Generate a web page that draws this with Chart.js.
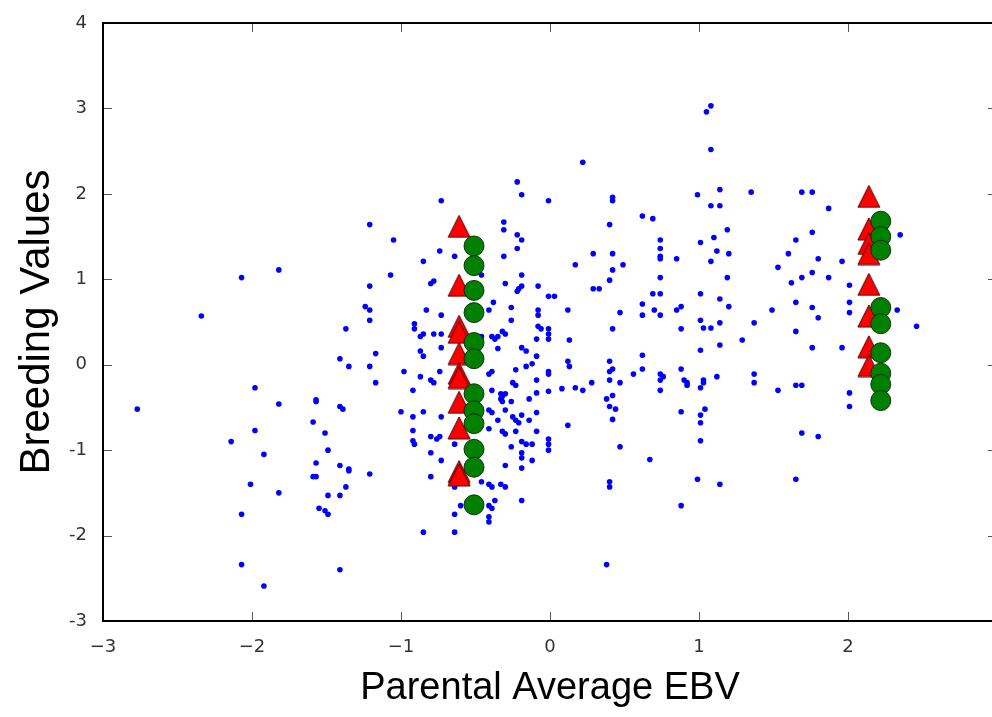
<!DOCTYPE html>
<html>
<head>
<meta charset="utf-8">
<script src="https://cdn.jsdelivr.net/npm/chart.js@4.4.1/dist/chart.umd.min.js"></script>
<style>
  html, body { margin: 0; padding: 0; background: #fff; overflow: hidden; }
  #wrap { position: absolute; left: 0; top: 0; width: 1020px; height: 717px; }
</style>
</head>
<body>
<div id="wrap"><canvas id="myChart" width="1020" height="717"></canvas></div>
<script>
// axis ticks
const xTicks = [-3, -2, -1, 0, 1, 2, 3];
const yTicks = [-3, -2, -1, 0, 1, 2, 3, 4];

// whole population (blue dots): parental average EBV and breeding value
const popEBV = [
  -1.82,-2.07,-2.34,-1.37,-1.41,-1.35,-1.98,-1.82,-1.57,-1.57,
  -1.41,-1.39,-2.77,-1.59,-1.98,-2.14,-1.51,-1.49,-1.92,-1.57,
  -1.41,-1.35,-1.35,-1.59,-1.57,-2.01,-1.82,-1.49,-1.41,-1.37,
  -1.55,-1.51,-1.49,-2.07,-2.07,-1.92,-1.41,
  -0.22,-0.19,-0.01,-0.73,-1.21,-0.31,-0.31,-0.22,-0.19,-1.05,
  -0.74,-0.22,-0.85,-0.64,-0.31,-1.07,-0.46,-0.19,-0.78,-0.80,
  -1.21,-0.30,-0.19,-0.21,-0.22,-0.08,-0.01,0.03,-0.38,-1.24,
  -1.21,-0.83,-0.26,-0.08,-0.08,-0.73,-0.41,-1.21,-0.26,-0.91,
  -0.91,-0.08,-0.06,-0.01,-0.01,-0.01,-0.85,-0.87,-0.78,-0.73,
  -0.32,-0.30,-0.39,-0.35,-0.37,-0.46,-0.09,-0.73,-0.19,
  -1.17,-0.87,-0.85,-0.35,-0.16,-0.09,-1.21,-0.98,-0.87,-0.74,
  -0.80,-0.78,-1.17,-0.92,-0.41,-0.39,-0.25,-0.23,-0.23,-0.16,
  -0.12,-0.09,-0.01,-0.01,-0.39,-0.33,-0.32,-0.30,-0.33,-0.32,
  -0.14,-0.09,-0.01,0.08,-1.00,-0.85,-0.73,-0.92,-0.41,-0.39,
  -0.26,-0.30,-0.25,-0.23,-0.21,-0.19,-0.14,-0.09,-0.41,-0.35,
  -0.32,-0.30,-0.23,-0.09,-0.92,-0.92,-0.91,-0.80,-0.76,-0.74,
  -0.64,-0.26,-0.19,-0.16,-0.12,-0.01,-0.01,-0.01,-0.80,-0.73,
  -0.19,-0.19,-0.12,-0.30,-0.19,-1.21,-0.80,-0.46,-0.41,-0.39,
  -0.33,-0.30,-0.37,-0.41,-0.39,-0.41,-0.41,-0.19,-0.60,-0.64,
  -0.64,-0.85,-0.64,
  1.08,1.05,1.08,0.22,0.99,1.14,1.35,1.08,1.14,0.42,
  0.42,0.62,0.69,0.40,1.19,1.10,1.01,1.12,1.20,1.08,
  0.74,0.74,0.74,0.74,0.85,0.29,0.42,0.49,0.42,0.17,
  0.40,0.29,0.33,0.12,0.74,0.69,0.74,0.62,0.62,0.70,
  0.74,0.47,0.85,0.88,1.01,1.19,1.14,1.20,1.49,1.53,
  1.01,1.03,1.08,1.14,1.37,0.42,0.88,
  1.29,0.13,1.14,1.01,0.62,0.12,0.13,0.40,0.42,0.40,
  0.40,0.62,0.56,0.47,0.28,0.17,0.22,0.74,0.76,0.74,
  0.74,0.88,0.90,0.92,0.92,1.03,1.03,1.01,1.12,1.37,
  1.37,1.53,0.42,0.38,0.40,0.44,0.42,0.88,1.01,1.04,
  1.01,0.12,0.47,1.01,0.67,0.40,0.40,0.99,1.14,0.88,
  0.38,
  1.69,1.76,1.87,1.76,1.65,1.60,1.80,1.96,1.76,1.69,
  1.62,1.87,2.01,1.65,1.76,1.80,2.01,2.01,2.35,2.33,
  2.46,1.65,1.76,1.96,1.65,1.69,2.01,2.01,1.69,1.80,
  1.65
];
const popBV = [
  1.11,1.02,0.57,0.42,0.07,-0.02,-0.27,-0.46,-0.41,-0.43,
  -0.49,-0.52,-0.52,-0.67,-0.77,-0.90,-0.80,-1.00,-1.05,-1.15,
  -1.18,-1.22,-1.24,-1.31,-1.31,-1.40,-1.50,-1.53,-1.53,-1.43,
  -1.68,-1.71,-1.75,-1.75,-2.34,-2.59,-2.40,
  2.14,1.99,1.92,1.92,1.64,1.67,1.58,1.52,1.46,1.46,
  1.33,1.36,1.21,1.27,1.27,1.05,1.05,1.05,0.98,0.95,
  0.92,0.95,0.92,0.89,0.86,0.92,0.80,0.80,0.73,0.68,
  0.64,0.64,0.67,0.64,0.58,0.58,0.64,0.52,0.52,0.48,
  0.42,0.45,0.42,0.42,0.36,0.30,0.36,0.33,0.36,0.36,
  0.39,0.36,0.33,0.33,0.30,0.33,0.30,0.20,0.20,
  0.13,0.16,0.10,0.19,0.16,0.10,-0.02,-0.08,-0.14,-0.08,
  -0.18,-0.21,-0.21,-0.30,-0.11,-0.08,-0.21,-0.24,-0.06,-0.02,
  0.01,-0.18,-0.08,-0.11,-0.30,-0.34,-0.37,-0.34,-0.40,-0.43,
  -0.40,-0.33,-0.31,-0.28,-0.55,-0.55,-0.61,-0.61,-0.53,-0.56,
  -0.43,-0.53,-0.61,-0.65,-0.68,-0.59,-0.65,-0.56,-0.75,-0.65,
  -0.78,-0.81,-0.78,-0.78,-0.77,-0.89,-0.93,-0.84,-0.87,-0.84,
  -0.93,-0.96,-0.90,-0.93,-0.93,-0.87,-0.93,-1.00,-1.03,-1.12,
  -1.03,-1.09,-1.12,-1.18,-1.21,-1.28,-1.31,-1.37,-1.40,-1.43,
  -1.40,-1.43,-1.59,-1.65,-1.68,-1.78,-1.84,-1.59,-1.65,-1.75,
  -1.96,-1.96,-1.43,
  3.03,2.96,2.52,2.37,1.99,2.05,2.02,1.86,1.86,1.96,
  1.92,1.74,1.71,1.64,1.58,1.49,1.43,1.33,1.30,1.21,
  1.46,1.36,1.27,1.24,1.24,1.30,1.30,1.17,1.11,1.17,
  0.99,0.89,0.89,0.64,1.02,0.83,0.83,0.71,0.58,0.64,
  0.58,0.61,0.64,0.68,0.83,1.02,0.77,0.68,0.64,1.14,
  0.52,0.43,0.43,0.49,0.49,0.42,0.42,
  0.29,0.29,0.23,0.17,0.11,0.04,-0.02,0.04,-0.05,-0.08,
  -0.18,-0.05,-0.11,-0.21,-0.21,-0.27,-0.30,-0.11,-0.14,-0.18,
  -0.30,-0.05,-0.18,-0.21,-0.24,-0.18,-0.21,-0.27,-0.14,-0.11,
  -0.21,-0.30,-0.36,-0.40,-0.49,-0.52,-0.64,-0.55,-0.59,-0.52,
  -0.68,-0.71,-0.96,-0.89,-1.11,-1.37,-1.43,-1.34,-1.40,-1.65,
  -2.34,
  2.02,2.02,1.83,1.55,1.46,1.30,1.24,1.21,1.08,1.02,
  0.96,1.02,0.93,0.73,0.67,0.55,0.73,0.61,1.52,0.64,
  0.45,0.39,0.20,0.20,-0.24,-0.24,-0.33,-0.49,-0.80,-0.84,
  -1.34
];

// red triangles (two families)
const redEBV = [-0.61,-0.61,-0.61,-0.61,-0.61,-0.61,-0.61,-0.61,-0.61,-0.61,-0.61,
                2.14,2.14,2.14,2.14,2.14,2.14,2.14,2.14];
const redBV  = [1.62,0.93,0.45,0.38,0.13,-0.10,-0.15,-0.44,-0.74,-1.25,-1.29,
                1.97,1.59,1.42,1.30,0.94,0.57,0.21,-0.01];

// green circles (two families)
const greenEBV = [-0.51,-0.51,-0.51,-0.51,-0.51,-0.51,-0.51,-0.51,-0.51,-0.51,-0.51,-0.51,
                  2.22,2.22,2.22,2.22,2.22,2.22,2.22,2.22,2.22];
const greenBV  = [1.39,1.16,0.87,0.61,0.26,0.07,-0.34,-0.54,-0.69,-0.99,-1.20,-1.64,
                  1.68,1.50,1.34,0.67,0.48,0.14,-0.10,-0.23,-0.42];

function toPoints(xs, ys) {
  return xs.map((x, i) => ({ x: x, y: ys[i] }));
}

// matplotlib style triangle, centred on its bounding box
function makeTriangle() {
  const c = document.createElement('canvas');
  c.width = 24; c.height = 24;
  const g = c.getContext('2d');
  g.beginPath();
  g.moveTo(12, 1); g.lineTo(23, 23); g.lineTo(1, 23); g.closePath();
  g.fillStyle = '#ff0000';
  g.fill();
  g.lineWidth = 1;
  g.strokeStyle = '#4a0000';
  g.stroke();
  return c;
}

// frame and inward ticks on all four sides
const framePlugin = {
  id: 'frame',
  afterDatasetsDraw(chart) {
    const { ctx, chartArea: a, scales } = chart;
    const len = 9;
    ctx.save();
    ctx.strokeStyle = '#555';
    ctx.lineWidth = 1;
    ctx.beginPath();
    xTicks.forEach(v => {
      const px = Math.round(scales.x.getPixelForValue(v)) + 0.5;
      ctx.moveTo(px, a.bottom); ctx.lineTo(px, a.bottom - len);
      ctx.moveTo(px, a.top); ctx.lineTo(px, a.top + len);
    });
    yTicks.forEach(v => {
      const py = Math.round(scales.y.getPixelForValue(v)) + 0.5;
      ctx.moveTo(a.left, py); ctx.lineTo(a.left + len, py);
      ctx.moveTo(a.right, py); ctx.lineTo(a.right - len, py);
    });
    ctx.stroke();
    ctx.strokeStyle = '#000';
    ctx.lineWidth = 2;
    ctx.strokeRect(a.left, a.top, a.right - a.left, a.bottom - a.top);
    ctx.restore();
  }
};

const tickFont = { family: "'DejaVu Sans', sans-serif", size: 18 };

new Chart(document.getElementById('myChart').getContext('2d'), {
  type: 'scatter',
  data: {
    datasets: [
      {
        data: toPoints(greenEBV, greenBV),
        pointStyle: 'circle',
        pointRadius: 10,
        backgroundColor: '#008000',
        borderColor: 'rgba(0,30,0,0.85)',
        borderWidth: 1,
        order: 1
      },
      {
        data: toPoints(redEBV, redBV),
        pointStyle: makeTriangle(),
        order: 2
      },
      {
        data: toPoints(popEBV, popBV),
        pointStyle: 'circle',
        pointRadius: 2.8,
        backgroundColor: '#0000ff',
        borderWidth: 0,
        order: 3
      }
    ]
  },
  options: {
    responsive: false,
    animation: false,
    events: [],
    layout: { padding: { top: 23, right: 23, bottom: 0, left: 0 } },
    plugins: {
      legend: { display: false },
      tooltip: { enabled: false }
    },
    scales: {
      x: {
        type: 'linear',
        min: -3,
        max: 3,
        grid: { display: false },
        border: { display: false },
        ticks: {
          stepSize: 1,
          autoSkip: false,
          padding: 8,
          color: '#333',
          font: tickFont,
          callback: v => (v < 0 ? '\u2212' + Math.abs(v) : String(v))
        },
        title: {
          display: true,
          text: 'Parental Average EBV',
          color: '#000',
          font: { family: "'Liberation Sans', Arial, sans-serif", size: 38 },
          padding: { top: 0, bottom: 6 }
        },
        afterFit(s) { s.height = 96; }
      },
      y: {
        type: 'linear',
        min: -3,
        max: 4,
        grid: { display: false },
        border: { display: false },
        ticks: {
          stepSize: 1,
          autoSkip: false,
          padding: 8,
          color: '#333',
          font: tickFont
        },
        title: {
          display: true,
          text: 'Breeding Values',
          color: '#000',
          font: { family: "'Liberation Sans', Arial, sans-serif", size: 42 },
          padding: { top: 12, bottom: 0 }
        },
        afterFit(s) { s.width = 103; }
      }
    }
  },
  plugins: [framePlugin]
});
</script>
</body>
</html>
